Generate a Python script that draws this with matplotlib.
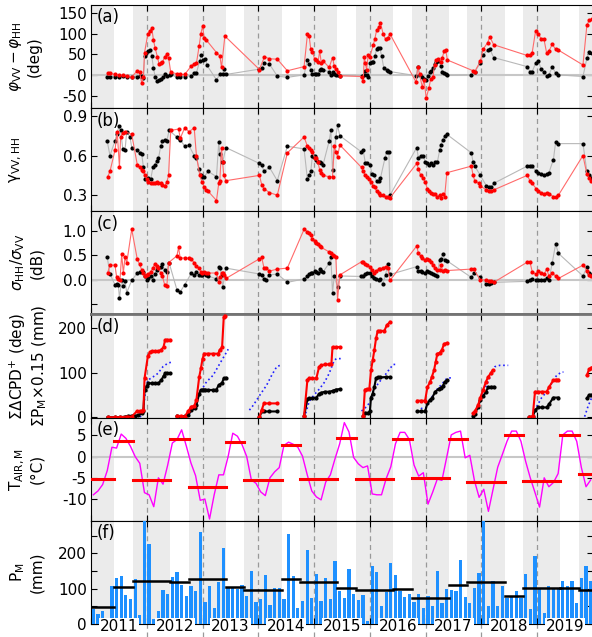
import numpy as np
import matplotlib.pyplot as plt
from matplotlib import transforms

plt.rcParams['font.family'] = ['DejaVu Sans']
plt.rcParams['mathtext.fontset'] = 'dejavusans'
plt.rcParams['axes.unicode_minus'] = False

years = list(range(2011, 2020))

# (a) phase difference [decimal year, deg]
a_red = [(2011.30, 4), (2011.34, 4), (2011.43, 1), (2011.51, -1), (2011.57, -1), (2011.64, -2), (2011.73, -5),
         (2011.83, 10), (2011.87, 6), (2011.91, -20), (2011.94, -4), (2011.96, 54), (2012.02, 100), (2012.05, 106),
         (2012.09, 113), (2012.12, 84), (2012.15, 65), (2012.19, 44), (2012.22, 26), (2012.25, 28), (2012.28, 30),
         (2012.32, 44), (2012.36, 50), (2012.39, 42), (2012.43, 6), (2012.54, 3), (2012.59, 1), (2012.68, 1),
         (2012.80, 22), (2012.85, 27), (2012.89, 28), (2012.94, 71), (2012.97, 100), (2013.00, 118), (2013.03, 90),
         (2013.07, 84), (2013.25, 54), (2013.31, 46), (2013.34, 18), (2013.40, 94), (2014.02, 13), (2014.11, 44),
         (2014.20, 39), (2014.34, 38), (2014.52, 10), (2014.82, 20), (2014.88, 98), (2014.91, 95), (2014.94, 62),
         (2014.97, 56), (2015.01, 38), (2015.04, 36), (2015.07, 30), (2015.10, 58), (2015.13, 28), (2015.16, 34),
         (2015.27, 18), (2015.33, 42), (2015.36, 22), (2015.39, 14), (2015.42, 6), (2015.46, -2), (2015.85, -4),
         (2015.88, -14), (2015.90, 44), (2015.92, 28), (2015.94, 12), (2015.97, 48), (2016.00, 44), (2016.06, 72),
         (2016.09, 88), (2016.12, 108), (2016.16, 116), (2016.19, 126), (2016.24, 98), (2016.28, 87), (2016.32, 90),
         (2016.36, 99), (2016.83, -18), (2016.86, 20), (2016.89, 2), (2016.94, -30), (2016.97, -12), (2017.01, -56),
         (2017.06, -31), (2017.09, -10), (2017.13, -6), (2017.16, 24), (2017.19, 36), (2017.23, 39), (2017.27, 30),
         (2017.30, 42), (2017.33, 58), (2017.36, 60), (2017.39, 36), (2017.85, 10), (2017.88, 8), (2017.98, 33),
         (2018.03, 62), (2018.11, 78), (2018.15, 92), (2018.22, 73), (2018.82, 47), (2018.87, 47), (2018.91, 54),
         (2018.97, 106), (2019.02, 100), (2019.07, 87), (2019.12, 87), (2019.17, 52), (2019.21, 58), (2019.27, 74),
         (2019.33, 62), (2019.38, 60), (2019.82, 24), (2019.89, 120), (2019.93, 132), (2019.98, 136)]
a_blk = [(2011.29, -6), (2011.34, -4), (2011.43, -4), (2011.51, -5), (2011.57, -3), (2011.64, -4), (2011.73, -5),
         (2011.83, -4), (2011.87, -2), (2011.91, -3), (2011.94, -8), (2011.96, 46), (2011.99, 52), (2012.03, 58),
         (2012.06, 60), (2012.09, 46), (2012.12, 16), (2012.15, -5), (2012.19, -14), (2012.22, -12), (2012.25, -9),
         (2012.29, -6), (2012.33, 2), (2012.36, -2), (2012.41, 0), (2012.43, 1), (2012.54, -6), (2012.59, -4),
         (2012.68, -4), (2012.80, -2), (2012.85, 5), (2012.89, 5), (2012.95, 34), (2012.98, 48), (2013.01, 36),
         (2013.05, 39), (2013.08, 23), (2013.25, -12), (2013.31, 1), (2013.36, 1), (2013.38, 14), (2013.42, 1),
         (2014.02, 14), (2014.06, 16), (2014.10, 28), (2014.20, 26), (2014.34, -3), (2014.52, -6), (2014.82, 0),
         (2014.88, 36), (2014.91, 26), (2014.94, 12), (2014.97, 2), (2015.01, 1), (2015.04, 1), (2015.07, 2),
         (2015.10, 12), (2015.13, 14), (2015.16, 12), (2015.27, 8), (2015.30, 0), (2015.33, 8), (2015.36, 2),
         (2015.39, 0), (2015.42, -1), (2015.46, -2), (2015.85, -2), (2015.89, -1), (2015.91, 10), (2015.94, 0),
         (2015.97, -6), (2016.00, 28), (2016.03, 32), (2016.06, 30), (2016.09, 46), (2016.12, 62), (2016.15, 66),
         (2016.18, 64), (2016.21, 46), (2016.25, 16), (2016.30, 12), (2016.33, 10), (2016.36, 8), (2016.83, -2),
         (2016.86, 20), (2016.89, -1), (2016.94, -6), (2016.97, -9), (2017.00, -12), (2017.04, -2), (2017.07, 6),
         (2017.10, 10), (2017.13, 16), (2017.16, 26), (2017.19, 30), (2017.23, 34), (2017.27, 22), (2017.30, 8),
         (2017.33, 4), (2017.36, 2), (2017.39, -1), (2017.82, 0), (2017.88, 8), (2017.98, 28), (2018.03, 48),
         (2018.11, 60), (2018.15, 62), (2018.22, 42), (2018.82, 20), (2018.87, 8), (2018.91, 8), (2018.97, 28),
         (2019.02, 34), (2019.07, 14), (2019.12, 6), (2019.17, -2), (2019.21, 0), (2019.27, 20), (2019.33, 4),
         (2019.38, 0), (2019.82, -4), (2019.89, 40), (2019.93, 56), (2019.98, 52)]

# (b) coherence
b_red = [(2011.30, 0.44), (2011.34, 0.48), (2011.43, 0.64), (2011.47, 0.78), (2011.51, 0.51), (2011.53, 0.74),
         (2011.57, 0.77), (2011.61, 0.78), (2011.73, 0.76), (2011.83, 0.53), (2011.87, 0.51), (2011.91, 0.49),
         (2011.94, 0.48), (2011.97, 0.45), (2012.00, 0.42), (2012.03, 0.40), (2012.07, 0.39), (2012.11, 0.39),
         (2012.14, 0.39), (2012.18, 0.40), (2012.21, 0.39), (2012.25, 0.39), (2012.28, 0.38), (2012.32, 0.37),
         (2012.36, 0.40), (2012.39, 0.45), (2012.43, 0.79), (2012.57, 0.80), (2012.60, 0.73), (2012.68, 0.81),
         (2012.76, 0.78), (2012.85, 0.81), (2012.89, 0.60), (2012.95, 0.45), (2012.99, 0.40), (2013.03, 0.36),
         (2013.06, 0.34), (2013.10, 0.33), (2013.25, 0.26), (2013.29, 0.39), (2013.31, 0.41), (2013.34, 0.66),
         (2013.36, 0.55), (2013.38, 0.45), (2013.42, 0.41), (2014.02, 0.45), (2014.06, 0.38), (2014.10, 0.35),
         (2014.20, 0.32), (2014.34, 0.30), (2014.52, 0.62), (2014.82, 0.74), (2014.88, 0.67), (2014.91, 0.66),
         (2014.94, 0.64), (2014.97, 0.63), (2015.01, 0.58), (2015.04, 0.58), (2015.07, 0.55), (2015.10, 0.49),
         (2015.13, 0.47), (2015.16, 0.45), (2015.27, 0.44), (2015.33, 0.44), (2015.36, 0.67), (2015.39, 0.63),
         (2015.42, 0.59), (2015.46, 0.68), (2015.85, 0.51), (2015.88, 0.48), (2015.92, 0.45), (2015.95, 0.44),
         (2015.99, 0.42), (2016.02, 0.40), (2016.06, 0.37), (2016.09, 0.36), (2016.12, 0.33), (2016.16, 0.32),
         (2016.19, 0.30), (2016.23, 0.30), (2016.28, 0.29), (2016.32, 0.29), (2016.36, 0.28), (2016.84, 0.54),
         (2016.87, 0.50), (2016.91, 0.45), (2016.96, 0.43), (2016.99, 0.40), (2017.03, 0.35), (2017.06, 0.33),
         (2017.10, 0.32), (2017.14, 0.31), (2017.17, 0.31), (2017.21, 0.29), (2017.25, 0.30), (2017.27, 0.28),
         (2017.31, 0.31), (2017.34, 0.29), (2017.38, 0.47), (2017.82, 0.52), (2017.85, 0.45), (2017.88, 0.41),
         (2017.95, 0.39), (2017.98, 0.37), (2018.09, 0.34), (2018.14, 0.33), (2018.18, 0.33), (2018.22, 0.34),
         (2018.82, 0.45), (2018.87, 0.41), (2018.91, 0.39), (2018.98, 0.35), (2019.02, 0.33), (2019.07, 0.32),
         (2019.12, 0.31), (2019.17, 0.32), (2019.21, 0.31), (2019.29, 0.29), (2019.33, 0.29), (2019.38, 0.30),
         (2019.82, 0.60), (2019.89, 0.46), (2019.93, 0.43), (2019.97, 0.41)]
b_blk = [(2011.29, 0.71), (2011.34, 0.60), (2011.43, 0.71), (2011.46, 0.76), (2011.50, 0.82), (2011.53, 0.79),
         (2011.57, 0.65), (2011.61, 0.64), (2011.64, 0.78), (2011.70, 0.74), (2011.73, 0.66), (2011.83, 0.64),
         (2011.87, 0.62), (2011.91, 0.61), (2011.94, 0.51), (2011.97, 0.42), (2012.02, 0.43), (2012.07, 0.42),
         (2012.11, 0.51), (2012.14, 0.53), (2012.18, 0.56), (2012.21, 0.58), (2012.25, 0.67), (2012.28, 0.71),
         (2012.32, 0.72), (2012.36, 0.71), (2012.40, 0.79), (2012.54, 0.74), (2012.57, 0.73), (2012.60, 0.72),
         (2012.68, 0.67), (2012.75, 0.68), (2012.85, 0.60), (2012.89, 0.58), (2012.94, 0.50), (2012.97, 0.45),
         (2012.99, 0.44), (2013.03, 0.44), (2013.10, 0.48), (2013.25, 0.44), (2013.29, 0.70), (2013.31, 0.61),
         (2013.34, 0.55), (2013.36, 0.55), (2013.42, 0.66), (2014.02, 0.54), (2014.06, 0.53), (2014.10, 0.48),
         (2014.20, 0.51), (2014.34, 0.41), (2014.52, 0.67), (2014.82, 0.65), (2014.88, 0.42), (2014.91, 0.45),
         (2014.94, 0.48), (2014.97, 0.60), (2015.00, 0.59), (2015.02, 0.60), (2015.04, 0.57), (2015.07, 0.55),
         (2015.10, 0.55), (2015.13, 0.54), (2015.16, 0.53), (2015.27, 0.71), (2015.30, 0.79), (2015.33, 0.49),
         (2015.39, 0.74), (2015.42, 0.83), (2015.46, 0.75), (2015.84, 0.63), (2015.88, 0.64), (2015.92, 0.54),
         (2015.95, 0.54), (2016.00, 0.53), (2016.04, 0.46), (2016.07, 0.45), (2016.12, 0.41), (2016.16, 0.41),
         (2016.19, 0.43), (2016.27, 0.58), (2016.30, 0.63), (2016.34, 0.63), (2016.36, 0.30), (2016.84, 0.66),
         (2016.87, 0.58), (2016.91, 0.60), (2016.96, 0.60), (2016.99, 0.55), (2017.03, 0.54), (2017.06, 0.53),
         (2017.10, 0.54), (2017.14, 0.53), (2017.17, 0.55), (2017.21, 0.55), (2017.25, 0.64), (2017.27, 0.68),
         (2017.31, 0.72), (2017.34, 0.75), (2017.38, 0.76), (2017.82, 0.62), (2017.85, 0.55), (2017.88, 0.52),
         (2017.98, 0.45), (2018.09, 0.37), (2018.14, 0.36), (2018.18, 0.36), (2018.22, 0.39), (2018.82, 0.52),
         (2018.87, 0.52), (2018.91, 0.52), (2018.98, 0.48), (2019.02, 0.47), (2019.07, 0.46), (2019.12, 0.45),
         (2019.17, 0.46), (2019.21, 0.47), (2019.29, 0.57), (2019.33, 0.70), (2019.38, 0.69), (2019.82, 0.69),
         (2019.89, 0.48), (2019.93, 0.45), (2019.97, 0.43)]

# (c) backscatter ratio [dB]
c_red = [(2011.30, 0.15), (2011.34, 0.30), (2011.43, 0.30), (2011.46, 0.05), (2011.49, 0.02), (2011.52, 0.00),
         (2011.55, 0.52), (2011.58, 0.14), (2011.61, 0.47), (2011.64, 0.34), (2011.73, 1.03), (2011.83, 0.42),
         (2011.87, 0.32), (2011.91, 0.20), (2011.94, 0.15), (2011.97, 0.08), (2012.00, 0.09), (2012.03, 0.12),
         (2012.07, 0.17), (2012.11, 0.24), (2012.14, 0.32), (2012.18, 0.28), (2012.21, 0.24), (2012.25, 0.14),
         (2012.28, 0.08), (2012.32, -0.10), (2012.36, -0.12), (2012.39, 0.35), (2012.54, 0.49), (2012.57, 0.66),
         (2012.60, 0.44), (2012.68, 0.45), (2012.76, 0.44), (2012.80, 0.42), (2012.85, 0.35), (2012.89, 0.28),
         (2012.94, 0.24), (2012.97, 0.16), (2012.99, 0.14), (2013.03, 0.17), (2013.06, 0.14), (2013.10, 0.14),
         (2013.25, 0.14), (2013.29, -0.05), (2013.31, 0.05), (2013.34, 0.14), (2013.36, 0.15), (2013.38, 0.10),
         (2013.42, 0.03), (2014.02, 0.43), (2014.06, 0.46), (2014.10, 0.25), (2014.13, 0.25), (2014.20, 0.18),
         (2014.34, 0.22), (2014.52, 0.24), (2014.82, 1.03), (2014.88, 0.98), (2014.91, 0.96), (2014.94, 0.91),
         (2014.97, 0.83), (2015.01, 0.80), (2015.04, 0.76), (2015.07, 0.74), (2015.10, 0.68), (2015.13, 0.66),
         (2015.27, 0.57), (2015.30, 0.55), (2015.33, 0.51), (2015.36, 0.49), (2015.39, 0.47), (2015.42, -0.41),
         (2015.46, 0.10), (2015.85, 0.37), (2015.88, 0.37), (2015.92, 0.32), (2015.95, 0.30), (2016.00, 0.27),
         (2016.04, 0.20), (2016.07, 0.14), (2016.11, 0.18), (2016.16, 0.22), (2016.19, 0.22), (2016.23, 0.24),
         (2016.28, 0.27), (2016.32, 0.24), (2016.36, -0.01), (2016.84, 0.69), (2016.87, 0.54), (2016.91, 0.49),
         (2016.94, 0.45), (2016.99, 0.41), (2017.03, 0.42), (2017.06, 0.41), (2017.10, 0.37), (2017.14, 0.30),
         (2017.17, 0.24), (2017.21, 0.20), (2017.25, 0.20), (2017.27, 0.30), (2017.31, 0.19), (2017.34, 0.20),
         (2017.38, 0.19), (2017.82, 0.22), (2017.86, 0.22), (2017.98, 0.00), (2018.09, 0.00), (2018.14, -0.02),
         (2018.18, -0.03), (2018.22, -0.05), (2018.82, 0.36), (2018.87, 0.36), (2018.91, 0.17), (2018.98, 0.11),
         (2019.02, 0.18), (2019.07, 0.14), (2019.12, 0.11), (2019.17, 0.22), (2019.21, 0.08), (2019.27, 0.14),
         (2019.33, 0.08), (2019.38, 0.03), (2019.82, 0.30), (2019.89, 0.19), (2019.93, 0.10), (2019.97, 0.07)]
c_blk = [(2011.29, 0.47), (2011.34, 0.12), (2011.43, -0.10), (2011.46, -0.08), (2011.49, -0.10), (2011.51, -0.37),
         (2011.55, 0.00), (2011.58, -0.12), (2011.61, -0.03), (2011.64, -0.26), (2011.73, -0.01), (2011.83, 0.14),
         (2011.87, 0.16), (2011.91, 0.16), (2011.94, 0.17), (2011.97, 0.07), (2012.00, 0.00), (2012.03, 0.03),
         (2012.07, 0.07), (2012.11, 0.00), (2012.14, 0.11), (2012.18, 0.20), (2012.21, 0.24), (2012.25, 0.27),
         (2012.28, 0.32), (2012.32, 0.20), (2012.36, 0.17), (2012.40, 0.35), (2012.54, -0.20), (2012.60, -0.24),
         (2012.68, -0.10), (2012.80, 0.14), (2012.85, 0.10), (2012.89, 0.17), (2012.94, 0.10), (2012.97, 0.09),
         (2012.99, 0.10), (2013.03, 0.14), (2013.06, 0.09), (2013.10, 0.08), (2013.25, 0.02), (2013.29, 0.27),
         (2013.31, 0.25), (2013.34, 0.10), (2013.36, -0.15), (2013.42, 0.24), (2014.02, 0.12), (2014.06, 0.10),
         (2014.10, 0.02), (2014.13, 0.00), (2014.20, 0.10), (2014.34, 0.12), (2014.52, -0.05), (2014.82, 0.02),
         (2014.88, 0.08), (2014.91, 0.11), (2014.94, 0.14), (2014.97, 0.15), (2015.01, 0.18), (2015.04, 0.17),
         (2015.07, 0.15), (2015.10, 0.22), (2015.13, 0.18), (2015.16, 0.16), (2015.27, 0.34), (2015.30, 0.47),
         (2015.33, -0.26), (2015.36, 0.07), (2015.42, -0.14), (2015.46, 0.08), (2015.84, 0.07), (2015.88, 0.08),
         (2015.92, 0.11), (2015.95, 0.14), (2016.00, 0.15), (2016.04, 0.07), (2016.07, 0.03), (2016.11, 0.01),
         (2016.16, 0.00), (2016.19, 0.01), (2016.23, -0.08), (2016.28, 0.10), (2016.32, 0.32), (2016.36, 0.11),
         (2016.84, 0.27), (2016.87, 0.18), (2016.91, 0.18), (2016.94, 0.17), (2016.99, 0.14), (2017.03, 0.18),
         (2017.06, 0.16), (2017.10, 0.14), (2017.14, 0.12), (2017.17, 0.09), (2017.21, 0.08), (2017.25, 0.41),
         (2017.27, 0.42), (2017.31, 0.52), (2017.34, 0.41), (2017.38, 0.39), (2017.82, 0.05), (2017.86, 0.14),
         (2017.98, 0.05), (2018.09, -0.09), (2018.14, -0.09), (2018.18, -0.07), (2018.22, -0.05), (2018.82, -0.03),
         (2018.87, 0.00), (2018.91, 0.02), (2018.98, 0.00), (2019.02, 0.00), (2019.07, 0.00), (2019.12, 0.00),
         (2019.17, 0.03), (2019.21, 0.00), (2019.27, 0.35), (2019.33, 0.73), (2019.38, 0.54), (2019.82, 0.08),
         (2019.89, 0.26), (2019.93, 0.15), (2019.97, 0.10)]

# (d) seasonal cumulative sums, one list per season
d_red = [
    [(2011.30, 0), (2011.43, 0), (2011.52, 0), (2011.64, 1.5), (2011.73, 1.5), (2011.82, 13), (2011.87, 14),
     (2011.91, 14), (2011.94, 16), (2011.96, 87), (2012.02, 137), (2012.06, 146), (2012.09, 147), (2012.15, 147),
     (2012.21, 147), (2012.26, 151), (2012.30, 157), (2012.33, 173), (2012.37, 173), (2012.42, 173)],
    [(2012.54, 3), (2012.62, 3), (2012.68, 1.5), (2012.74, 13), (2012.80, 24), (2012.85, 25), (2012.89, 39),
     (2012.94, 90), (2012.97, 109), (2013.00, 131), (2013.03, 142), (2013.10, 142), (2013.19, 142), (2013.28, 142),
     (2013.31, 151), (2013.35, 156), (2013.38, 224), (2013.40, 227)],
    [(2014.02, 0), (2014.06, 16), (2014.10, 31), (2014.20, 31), (2014.34, 31)],
    [(2014.82, 3), (2014.88, 84), (2014.91, 87), (2014.97, 87), (2015.04, 87), (2015.09, 113), (2015.13, 116),
     (2015.19, 118), (2015.27, 118), (2015.31, 120), (2015.33, 157), (2015.39, 157), (2015.46, 157)],
    [(2015.88, 3), (2015.91, 62), (2015.95, 63), (2015.99, 63), (2016.02, 105), (2016.05, 127), (2016.08, 150),
     (2016.11, 176), (2016.14, 193), (2016.19, 193), (2016.26, 193), (2016.30, 205), (2016.36, 213)],
    [(2016.85, 37), (2016.91, 37), (2016.99, 37), (2017.03, 67), (2017.08, 79), (2017.11, 90), (2017.15, 105),
     (2017.18, 124), (2017.21, 142), (2017.25, 144), (2017.29, 150), (2017.33, 164), (2017.38, 166)],
    [(2017.85, 9), (2017.88, 13), (2017.94, 27), (2017.98, 44), (2018.03, 61), (2018.08, 79), (2018.12, 90),
     (2018.17, 99), (2018.20, 105)],
    [(2018.86, 0), (2018.92, 3), (2018.96, 57), (2019.02, 57), (2019.08, 57), (2019.17, 57), (2019.21, 67),
     (2019.29, 83), (2019.33, 84), (2019.38, 84)],
    [(2019.89, 94), (2019.93, 107), (2019.97, 111)],
]
d_blk = [
    [(2011.30, 0), (2011.43, 0), (2011.52, 0), (2011.61, 1.5), (2011.67, 3), (2011.73, 3.5), (2011.79, 3),
     (2011.85, 5), (2011.91, 9), (2011.94, 15), (2011.96, 61), (2012.00, 70), (2012.03, 76), (2012.09, 76),
     (2012.15, 76), (2012.21, 76), (2012.26, 83), (2012.30, 92), (2012.33, 98), (2012.37, 99), (2012.42, 98)],
    [(2012.54, 3), (2012.62, 1.5), (2012.68, 3), (2012.74, 5), (2012.80, 16), (2012.86, 20), (2012.89, 27),
     (2012.94, 53), (2012.97, 61), (2013.00, 62), (2013.04, 62), (2013.10, 61), (2013.19, 61), (2013.25, 62),
     (2013.29, 72), (2013.35, 77), (2013.38, 87), (2013.42, 88)],
    [(2014.02, 0), (2014.06, 13), (2014.10, 13), (2014.20, 13), (2014.34, 13)],
    [(2014.82, 3), (2014.88, 40), (2014.91, 42), (2014.97, 42), (2015.04, 44), (2015.09, 52), (2015.13, 55),
     (2015.19, 57), (2015.27, 57), (2015.33, 59), (2015.39, 62), (2015.46, 63)],
    [(2015.88, 3), (2015.92, 10), (2015.97, 10), (2016.00, 13), (2016.02, 44), (2016.05, 53), (2016.08, 68),
     (2016.11, 87), (2016.14, 89), (2016.19, 89), (2016.29, 90), (2016.36, 90)],
    [(2016.85, 13), (2016.91, 13), (2016.99, 13), (2017.03, 31), (2017.08, 39), (2017.12, 44), (2017.17, 57),
     (2017.24, 64), (2017.27, 66), (2017.31, 70), (2017.34, 79), (2017.39, 83)],
    [(2017.85, 3), (2017.88, 7), (2017.94, 24), (2017.98, 39), (2018.03, 47), (2018.08, 57), (2018.12, 67),
     (2018.17, 68), (2018.22, 68)],
    [(2018.86, 0), (2018.92, 1.5), (2018.96, 16), (2019.02, 22), (2019.08, 22), (2019.17, 22), (2019.21, 29),
     (2019.29, 44), (2019.38, 44)],
    [(2019.89, 42), (2019.93, 50), (2019.97, 50)],
]
d_blue = [
    [(2011.88, 0), (2011.94, 16), (2011.97, 55), (2012.02, 83), (2012.11, 90), (2012.20, 98), (2012.29, 113),
     (2012.38, 121), (2012.47, 124)],
    [(2012.68, 3), (2012.77, 9), (2012.86, 24), (2012.92, 46), (2012.98, 61), (2013.07, 79), (2013.19, 94),
     (2013.31, 120), (2013.40, 139), (2013.46, 152)],
    [(2013.84, 16), (2013.91, 27), (2014.03, 50), (2014.15, 72), (2014.24, 94), (2014.33, 113), (2014.39, 116)],
    [(2014.85, 9), (2014.91, 35), (2015.00, 50), (2015.10, 64), (2015.19, 79), (2015.27, 98), (2015.36, 127),
     (2015.40, 131), (2015.49, 131)],
    [(2015.85, 14), (2015.91, 20), (2016.00, 33), (2016.06, 57), (2016.15, 76), (2016.27, 94), (2016.36, 109),
     (2016.42, 118), (2016.48, 118)],
    [(2016.85, 13), (2016.93, 20), (2017.02, 22), (2017.08, 40), (2017.14, 50), (2017.20, 62), (2017.29, 74),
     (2017.38, 87), (2017.44, 88), (2017.50, 88)],
    [(2017.84, 5), (2017.91, 18), (2018.00, 44), (2018.09, 72), (2018.17, 94), (2018.24, 113), (2018.33, 116),
     (2018.48, 116)],
    [(2018.86, 0), (2018.93, 7), (2018.99, 24), (2019.08, 44), (2019.17, 57), (2019.26, 76), (2019.35, 94),
     (2019.44, 101), (2019.47, 101)],
    [(2019.85, 1.5), (2019.91, 24), (2019.97, 42)],
]

# (e) monthly air temperature 2011-01 .. 2019-12 [deg C]
t_air = [-9.0, -8.1, -6.6, -3.3, 2.2, 2.0, 5.3, 4.3, 2.4, 0.0, -1.6, -8.5,
         -9.0, -11.8, -5.0, -6.5, -2.0, 3.2, 4.0, 6.3, 2.5, -1.5, -4.5, -10.3,
         -10.0, -14.7, -9.0, -4.3, -4.3, 0.0, 5.5, 4.8, 2.8, 0.0, -5.5, -6.3,
         -8.3, -9.2, -5.0, -3.6, -2.6, 2.6, 3.4, 2.9, 2.2, 0.1, -4.2, -8.1,
         -9.5, -10.2, -6.0, -4.3, -0.5, 3.0, 8.0, 5.8, -0.2, -1.7, -2.6, -2.2,
         -8.8, -9.0, -9.0, -5.2, -2.4, 3.0, 5.7, 5.7, 4.0, -2.0, -4.6, -3.8,
         -11.2, -8.4, -5.3, -5.6, -0.3, 5.1, 5.7, 6.0, -0.3, 0.3, -5.7, -9.6,
         -7.7, -12.9, -7.7, -2.5, 0.5, 3.6, 6.0, 6.0, 3.6, -1.1, -5.0, -8.4,
         -11.9, -5.0, -7.1, -6.1, -4.0, 5.1, 6.0, 6.0, 3.6, -2.6, -7.1, -5.5]
t_cold = [-5.2, -5.4, -7.2, -5.4, -5.2, -5.2, -5.0, -6.0, -5.7, -4.0]   # Oct-May, winters 2010/11 .. 2019/20
t_warm = [3.6, 4.1, 3.4, 2.7, 4.3, 4.2, 4.1, 5.1, 5.1]                 # Jun-Sep, 2011 .. 2019

# (f) monthly precipitation [mm]
p_month = [42, 29, 38, 17, 108, 130, 135, 82, 71, 128, 26, 320,
           227, 14, 36, 95, 86, 132, 148, 111, 78, 108, 92, 260,
           62, 107, 44, 120, 215, 102, 102, 99, 111, 80, 151, 63,
           72, 140, 55, 103, 103, 71, 256, 135, 45, 66, 210, 73,
           142, 64, 129, 71, 180, 94, 73, 156, 84, 69, 81, 9,
           164, 148, 52, 91, 173, 139, 92, 75, 86, 63, 84, 45,
           78, 52, 149, 60, 100, 95, 92, 182, 76, 60, 102, 144,
           330, 52, 121, 52, 108, 73, 80, 93, 73, 142, 42, 194,
           100, 31, 108, 99, 99, 122, 108, 122, 59, 130, 165, 122]
p_cold = [47, 121, 127, 97, 118, 97, 74, 120, 101, 97]
p_warm = [105, 118, 104, 127, 102, 98, 111, 80, 103]

# cold season Oct 1 - Jun 1, warm season Jun 1 - Oct 1
cold_start, cold_end = 0.75, 1 + 5 / 12
months = 2011 + (np.arange(len(t_air)) + 0.5) / 12

fig = plt.figure(figsize=(5.92, 6.37), dpi=100)
left, width = 91 / 592, 502 / 592
h = 103.2 / 637
top = 1 - 4.7 / 637
axes = [fig.add_axes([left, top - (k + 1) * h, width, h]) for k in range(6)]
ax_a, ax_b, ax_c, ax_d, ax_e, ax_f = axes

for ax, lab in zip(axes, 'abcdef'):
    ax.set_xlim(2011, 2020)
    for y in range(2010, 2020):
        ax.axvspan(y + cold_start, y + cold_end, color='#ebebeb', lw=0, zorder=0)
    for y in range(2012, 2020):
        if ax is ax_f:
            ax.axvline(y, ymin=-0.13, ymax=1, color='0.6', lw=0.9, ls=(0, (4, 3)), zorder=1, clip_on=False)
        else:
            ax.axvline(y, color='0.6', lw=0.9, ls=(0, (4, 3)), zorder=1)
    ax.set_xticks(range(2011, 2021))
    ax.tick_params(direction='in', top=True, right=True, labelbottom=False, labelsize=11,
                   length=4, pad=3)
    ax.text(0.012, 0.965, '(%s)' % lab, transform=ax.transAxes, fontsize=12, va='top', ha='left', zorder=10)


def plot_pair(ax, red, blk):
    t, v = np.array(blk).T
    ax.plot(t, v, '-', color='0.72', lw=0.8, zorder=3)
    ax.plot(t, v, 'o', color='k', ms=3, mew=0, zorder=4)
    t, v = np.array(red).T
    ax.plot(t, v, '-', color='#ff6a6a', lw=0.8, zorder=5)
    ax.plot(t, v, 'o', color='red', ms=3, mew=0, zorder=6)


# (a)
ax_a.axhline(0, color='0.78', lw=1.5, zorder=2)
plot_pair(ax_a, a_red, a_blk)
ax_a.set_ylim(-80, 170)
ax_a.set_yticks([-50, 0, 50, 100, 150])

# (b)
plot_pair(ax_b, b_red, b_blk)
ax_b.set_ylim(0.18, 0.96)
ax_b.set_yticks([0.3, 0.6, 0.9])

# (c)
ax_c.axhline(0, color='0.78', lw=1.5, zorder=2)
plot_pair(ax_c, c_red, c_blk)
ax_c.set_ylim(-0.70, 1.40)
ax_c.set_yticks([-0.5, 0.0, 0.5, 1.0])
ax_c.set_yticklabels(['', '0.0', '0.5', '1.0'])

# (d)
for season in d_blue:
    t, v = np.array(season).T
    ax_d.plot(t, v, ':', color='#2020ff', lw=1.2, zorder=3)
for season in d_blk:
    t, v = np.array(season).T
    ax_d.plot(t, v, '-', color='k', lw=1.5, marker='o', ms=2, zorder=4)
for season in d_red:
    t, v = np.array(season).T
    ax_d.plot(t, v, '-', color='red', lw=1.5, marker='o', ms=2, zorder=5)
ax_d.set_ylim(-0.5, 230)
ax_d.set_yticks([0, 100, 200])
ax_d.spines['top'].set_color('0.45')
ax_d.spines['top'].set_linewidth(2)

# (e)
ax_e.axhline(0, color='0.78', lw=1.5, zorder=2)
ax_e.plot(months, t_air, color='#ff00ff', lw=1.0, zorder=3)
for k, v in enumerate(t_cold):
    y0 = 2010 + k
    ax_e.plot([max(y0 + cold_start, 2011), y0 + cold_end], [v, v], color='red', lw=2.2, zorder=4)
for k, v in enumerate(t_warm):
    y0 = 2011 + k
    ax_e.plot([y0 + cold_end - 1, y0 + cold_start], [v, v], color='red', lw=2.2, zorder=4)
ax_e.set_ylim(-15.1, 9.2)
ax_e.set_yticks([-10, -5, 0, 5])

# (f)
ax_f.bar(months, p_month, width=0.7 / 12, color='#1e90ff', zorder=3)
for k, v in enumerate(p_cold):
    y0 = 2010 + k
    ax_f.plot([max(y0 + cold_start, 2011), y0 + cold_end], [v, v], color='k', lw=1.8, zorder=4)
for k, v in enumerate(p_warm):
    y0 = 2011 + k
    ax_f.plot([y0 + cold_end - 1, y0 + cold_start], [v, v], color='k', lw=1.8, zorder=4)
ax_f.set_ylim(0, 293)
ax_f.set_yticks([0, 50, 100, 150, 200, 250])
ax_f.set_yticklabels(['0', '', '100', '', '200', ''])
trans = transforms.blended_transform_factory(ax_f.transData, ax_f.transAxes)
for y in years:
    ax_f.text(y + 0.5, -0.025, str(y), transform=trans, ha='center', va='center', fontsize=11,
              clip_on=False, zorder=12,
              bbox=dict(facecolor='white', edgecolor='none', pad=0.5))

ax_c.spines['bottom'].set_color('0.45')
ax_c.spines['bottom'].set_linewidth(2)

# y labels, left aligned at the figure edge
ylabels = [r'$\varphi_{\rm VV}-\varphi_{\rm HH}$' + '\n(deg)',
           'γ$_{\\rm VV,HH}$',
           r'$\sigma_{\rm HH}/\sigma_{\rm VV}$' + '\n(dB)',
           'ΣΔCPD$^{+}$ (deg)\nΣP$_{\\rm M}$×0.15 (mm)',
           'T$_{\\rm AIR,M}$\n(°C)',
           'P$_{\\rm M}$\n(mm)']
for k, lab in enumerate(ylabels):
    yc = top - (k + 0.5) * h
    fig.text(8 / 592, yc, lab, rotation=90, ha='left', va='center', multialignment='center', fontsize=11)

fig.savefig('out.png', dpi=100)
